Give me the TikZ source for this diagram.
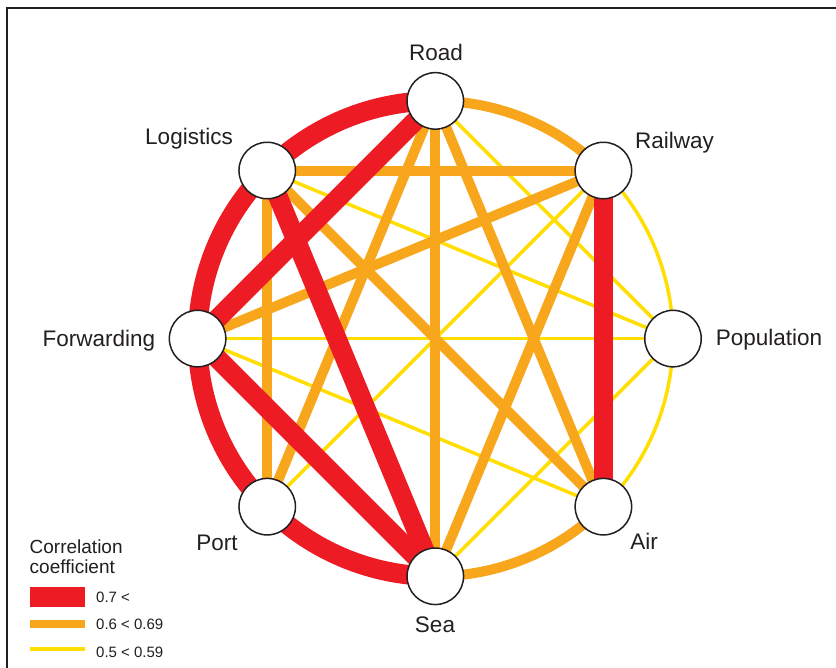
\documentclass[tikz,border=0pt]{standalone}
\usepackage{fontspec}
\setmainfont{Liberation Sans}
\definecolor{cred}{RGB}{237,28,36}
\definecolor{corange}{RGB}{248,166,28}
\definecolor{cyellow}{RGB}{255,222,0}
\definecolor{ink}{RGB}{35,31,32}
\begin{document}
\begin{tikzpicture}[x=1pt,y=1pt,
  strong/.style={draw=cred,line width=19.5pt},
  medium/.style={draw=corange,line width=10pt},
  weak/.style={draw=cyellow,line width=3.5pt},
  nd/.style={circle,draw=ink,fill=white,line width=1.5pt,minimum size=56.5pt,inner sep=0pt},
  lbl/.style={font=\fontsize{22.5}{27}\selectfont,text=ink,inner sep=0pt,anchor=base},
  leg/.style={font=\fontsize{19}{22}\selectfont,text=ink,inner sep=0pt,anchor=base west},
  val/.style={font=\fontsize{15}{18}\selectfont,text=ink,inner sep=0pt,anchor=base west}]
\useasboundingbox (0,0) rectangle (836,668);
\fill[white] (0,0) rectangle (836,668);
\draw[ink,line width=2pt] (6.5,0) -- (6.5,660) -- (836,660);
\coordinate (C) at (435.3,329.4);
\def\R{237.7}
\path (C) ++(90:\R) coordinate (road);
\path (C) ++(45:\R) coordinate (rail);
\path (C) ++(0:\R) coordinate (pop);
\path (C) ++(-45:\R) coordinate (air);
\path (C) ++(-90:\R) coordinate (sea);
\path (C) ++(-135:\R) coordinate (port);
\path (C) ++(180:\R) coordinate (fwd);
\path (C) ++(135:\R) coordinate (log);
% weak links
\draw[weak] (rail) arc[start angle=45,end angle=0,radius=\R];
\draw[weak] (pop) arc[start angle=0,end angle=-45,radius=\R];
\draw[weak] (road) -- (pop);
\draw[weak] (log) -- (pop);
\draw[weak] (fwd) -- (pop);
\draw[weak] (fwd) -- (air);
\draw[weak] (rail) -- (port);
\draw[weak] (pop) -- (sea);
% medium links
\draw[medium] (road) arc[start angle=90,end angle=45,radius=\R];
\draw[medium] (air) arc[start angle=-45,end angle=-90,radius=\R];
\draw[medium] (log) -- (rail);
\draw[medium] (log) -- (port);
\draw[medium] (road) -- (port);
\draw[medium] (road) -- (sea);
\draw[medium] (road) -- (air);
\draw[medium] (log) -- (air);
\draw[medium] (fwd) -- (rail);
\draw[medium] (rail) -- (sea);
% strong links
\draw[strong] (road) arc[start angle=90,end angle=135,radius=\R];
\draw[strong] (log) arc[start angle=135,end angle=180,radius=\R];
\draw[strong] (fwd) arc[start angle=180,end angle=225,radius=\R];
\draw[strong] (port) arc[start angle=225,end angle=270,radius=\R];
\draw[strong] (road) -- (fwd);
\draw[strong] (log) -- (sea);
\draw[strong] (fwd) -- (sea);
\draw[strong] (rail) -- (air);
% nodes
\node[nd] (roadN) at (road) {};
\node[nd] (railN) at (rail) {};
\node[nd] (popN) at (pop) {};
\node[nd] (airN) at (air) {};
\node[nd] (seaN) at (sea) {};
\node[nd] (portN) at (port) {};
\node[nd] (fwdN) at (fwd) {};
\node[nd] (logN) at (log) {};
% labels
\node[lbl] (roadL) at (436,607) {Road};
\node[lbl] (logL) at (189,523) {Logistics};
\node[lbl] (railL) at (674.5,519) {Railway};
\node[lbl] (popL) at (769,322) {Population};
\node[lbl] (fwdL) at (99,321) {Forwarding};
\node[lbl] (portL) at (217,117) {Port};
\node[lbl] (seaL) at (435,35) {Sea};
\node[lbl] (airL) at (644,118) {Air};
% legend
\node[leg] (legA) at (29.5,114.7) {Correlation};
\node[leg] (legB) at (29.5,94.7) {coefficient};
\fill[cred] (30,61) rectangle (85,81);
\draw[corange,line width=8.5pt] (30,44) -- (85,44);
\draw[cyellow,line width=3.5pt] (30,19) -- (85,19);
\node[val] (v1) at (96,65.3) {0.7 <};
\node[val] (v2) at (96,38) {0.6 < 0.69};
\node[val] (v3) at (96,10.3) {0.5 < 0.59};
\end{tikzpicture}
\end{document}
